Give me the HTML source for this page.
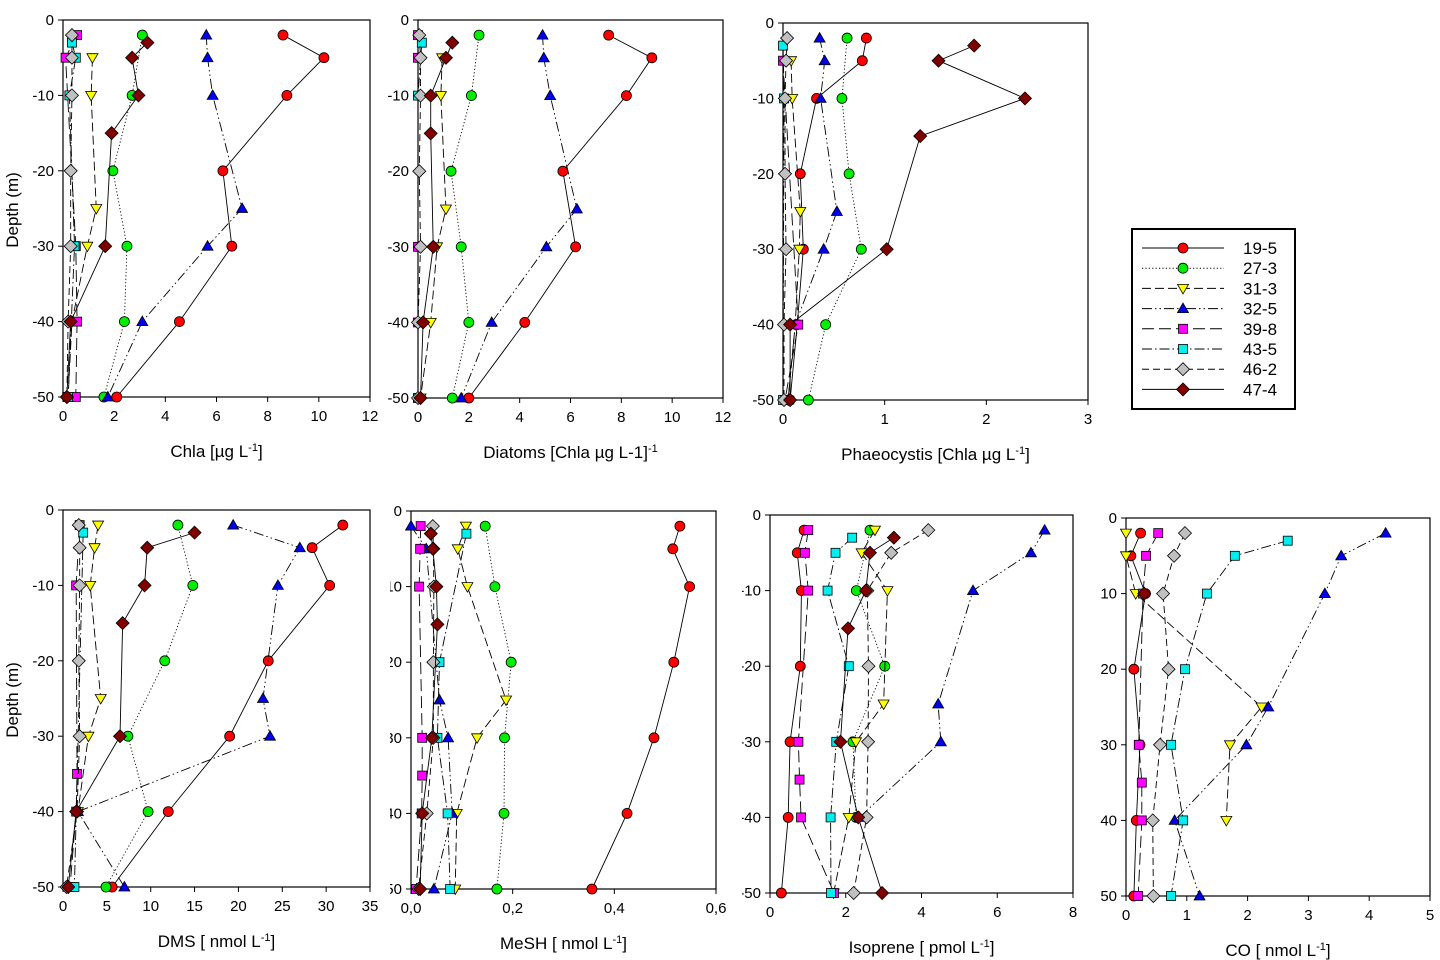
<!DOCTYPE html>
<html><head><meta charset="utf-8"><style>
html,body{margin:0;padding:0;background:#fff;}
svg{display:block;font-family:"Liberation Sans",Arial,sans-serif;}
</style></head><body>
<svg id="fig" width="1440" height="960" viewBox="0 0 1440 960"></svg>
<script>
const stations = ['19-5','27-3','31-3','32-5','39-8','43-5','46-2','47-4'];

const chlaDepths = {'19-5':[-2,-5,-10,-20,-30,-40,-50],'27-3':[-2,-10,-20,-30,-40,-50],'31-3':[-5,-10,-25,-30,-40,-50],'32-5':[-2,-5,-10,-25,-30,-40,-50],'39-8':[-2,-5,-30,-40,-50],'43-5':[-3,-5,-10,-30,-50],'46-2':[-2,-5,-10,-20,-30,-40,-50],'47-4':[-3,-5,-10,-15,-30,-40,-50]};
const chlaValues = {'19-5':[8.6,10.2,8.75,6.25,6.6,4.55,2.1],'27-3':[3.1,2.7,1.95,2.5,2.4,1.6],'31-3':[1.15,1.1,1.3,0.95,0.35,0.2],'32-5':[5.6,5.65,5.85,7.0,5.65,3.1,1.75],'39-8':[0.55,0.1,0.5,0.55,0.5],'43-5':[0.35,0.5,0.25,0.45,0.2],'46-2':[0.35,0.35,0.35,0.3,0.3,0.2,0.15],'47-4':[3.3,2.7,2.95,1.9,1.65,0.3,0.15]};

const diatDepths = {'19-5':[-2,-5,-10,-20,-30,-40,-50],'27-3':[-2,-10,-20,-30,-40,-50],'31-3':[-5,-10,-25,-30,-40,-50],'32-5':[-2,-5,-10,-25,-30,-40,-50],'39-8':[-2,-5,-30,-40,-50],'43-5':[-3,-10,-50],'46-2':[-2,-5,-10,-20,-30,-40,-50],'47-4':[-3,-5,-10,-15,-30,-40,-50]};
const diatValues = {'19-5':[7.5,9.2,8.2,5.7,6.2,4.2,2.0],'27-3':[2.4,2.1,1.3,1.7,2.0,1.35],'31-3':[0.95,0.9,1.1,0.75,0.5,0.1],'32-5':[4.9,4.95,5.2,6.25,5.05,2.9,1.7],'39-8':[0,0,0,0,0],'43-5':[0.15,0,0],'46-2':[0.05,0.1,0.1,0.05,0.1,0,0],'47-4':[1.35,1.1,0.5,0.5,0.6,0.2,0.1]};

const phaeoDepths = {'19-5':[-2,-5,-10,-20,-30,-40,-50],'27-3':[-2,-10,-20,-30,-40,-50],'31-3':[-5,-10,-25,-30,-40,-50],'32-5':[-2,-5,-10,-25,-30,-40,-50],'39-8':[-5,-40,-50],'43-5':[-3,-10,-50],'46-2':[-2,-5,-10,-20,-30,-40,-50],'47-4':[-3,-5,-10,-15,-30,-40,-50]};
const phaeoValues = {'19-5':[0.82,0.78,0.33,0.17,0.2,0.14,0.07],'27-3':[0.63,0.58,0.65,0.77,0.42,0.25],'31-3':[0.08,0.09,0.17,0.16,0.12,0.05],'32-5':[0.36,0.41,0.37,0.53,0.4,0.12,0.05],'39-8':[0,0.15,0.02],'43-5':[0,0.01,0],'46-2':[0.04,0.03,0.02,0.02,0.03,0.01,0.01],'47-4':[1.88,1.53,2.38,1.35,1.02,0.07,0.07]};

const dmsDepths = {'19-5':[-2,-5,-10,-20,-30,-40,-50],'27-3':[-2,-10,-20,-30,-40,-50],'31-3':[-2,-5,-10,-25,-30,-40],'32-5':[-2,-5,-10,-25,-30,-40,-50],'39-8':[-2,-10,-35,-40,-50],'43-5':[-3,-50],'46-2':[-2,-5,-10,-20,-30,-40,-50],'47-4':[-3,-5,-10,-15,-30,-40,-50]};
const dmsValues = {'19-5':[31.9,28.4,30.4,23.4,19.0,12.0,5.6],'27-3':[13.1,14.8,11.6,7.4,9.7,4.9],'31-3':[4.0,3.6,3.1,4.3,2.9,1.7],'32-5':[19.4,27.0,24.5,22.8,23.6,1.7,7.0],'39-8':[1.9,1.5,1.6,1.5,0.8],'43-5':[2.3,1.3],'46-2':[1.8,1.9,1.9,1.8,1.9,1.6,0.4],'47-4':[15.0,9.6,9.3,6.8,6.5,1.5,0.6]};

const meshDepths = {'19-5':[-2,-5,-10,-20,-30,-40,-50],'27-3':[-2,-10,-20,-30,-40,-50],'31-3':[-2,-5,-10,-25,-30,-40,-50],'32-5':[-2,-5,-25,-30,-40,-50],'39-8':[-2,-5,-10,-30,-35,-40,-50],'43-5':[-3,-20,-30,-40,-50],'46-2':[-2,-5,-10,-20,-30,-40,-50],'47-4':[-3,-5,-10,-15,-30,-40,-50]};
const meshValues = {'19-5':[0.529,0.515,0.548,0.517,0.478,0.425,0.356],'27-3':[0.146,0.165,0.197,0.184,0.183,0.169],'31-3':[0.108,0.092,0.111,0.187,0.130,0.090,0.087],'32-5':[0.0,0.03,0.056,0.073,0.081,0.045],'39-8':[0.019,0.018,0.016,0.022,0.022,0.021,0.01],'43-5':[0.109,0.056,0.052,0.072,0.077],'46-2':[0.043,0.044,0.045,0.044,0.044,0.031,0.015],'47-4':[0.039,0.043,0.05,0.052,0.041,0.022,0.018]};

const isoDepths = {'19-5':[-2,-5,-10,-20,-30,-40,-50],'27-3':[-2,-10,-20,-30,-40],'31-3':[-2,-5,-10,-25,-30,-40,-50],'32-5':[-2,-5,-10,-25,-30,-40],'39-8':[-2,-5,-10,-30,-35,-40,-50],'43-5':[-3,-5,-10,-20,-30,-40,-50],'46-2':[-2,-5,-10,-20,-30,-40,-50],'47-4':[-3,-5,-10,-15,-30,-40,-50]};
const isoValues = {'19-5':[0.9,0.72,0.83,0.8,0.53,0.48,0.3],'27-3':[2.64,2.28,3.03,2.19,2.27],'31-3':[2.77,2.42,3.1,3.0,2.27,2.08,1.68],'32-5':[7.25,6.89,5.36,4.44,4.51,2.36],'39-8':[1.01,0.92,1.01,0.75,0.78,0.82,1.69],'43-5':[2.17,1.73,1.52,2.08,1.75,1.6,1.61],'46-2':[4.18,3.2,2.57,2.6,2.59,2.55,2.21],'47-4':[3.27,2.64,2.53,2.06,1.86,2.33,2.96]};

const coDepths = {'19-5':[2,5,10,20,30,40,50],'27-3':[],'31-3':[2,5,10,25,30,40],'32-5':[2,5,10,25,30,40,50],'39-8':[2,5,10,30,35,40,50],'43-5':[3,5,10,20,30,40,50],'46-2':[2,5,10,20,30,40,50],'47-4':[10]};
const coValues = {'19-5':[0.24,0.08,0.32,0.13,0.23,0.17,0.13],'27-3':[],'31-3':[0,0,0.16,2.23,1.71,1.65],'32-5':[4.27,3.54,3.27,2.34,1.98,0.8,1.21],'39-8':[0.53,0.33,0.28,0.21,0.26,0.26,0.2],'43-5':[2.66,1.79,1.33,0.97,0.74,0.94,0.74],'46-2':[0.97,0.79,0.61,0.7,0.56,0.44,0.45],'47-4':[0.3]};

const xTicksChla = [0,2,4,6,8,10,12];
const xTicksPhaeo = [0,1,2,3];
const xTicksDms = [0,5,10,15,20,25,30,35];
const xTicksMesh = [0,0.2,0.4,0.6];
const xTicksIso = [0,2,4,6,8];
const xTicksCo = [0,1,2,3,4,5];
const yTicksNeg = [0,-10,-20,-30,-40,-50];
const yTicksPos = [0,10,20,30,40,50];

const STY = {
 '19-5':{c:'#ff0000',m:'circle',d:''},
 '27-3':{c:'#00ee00',m:'circle',d:'1.2,2.2'},
 '31-3':{c:'#ffff00',m:'tdown',d:'9,4'},
 '32-5':{c:'#0000ee',m:'tup',d:'10,3,1.5,3,1.5,3'},
 '39-8':{c:'#ff00ff',m:'square',d:'12,5'},
 '43-5':{c:'#00eeee',m:'square',d:'10,3,1.5,3'},
 '46-2':{c:'#c0c0c0',m:'diamond',d:'7,4'},
 '47-4':{c:'#800000',m:'diamond',d:''}
};
const NS='http://www.w3.org/2000/svg';
const svg=document.getElementById('fig');
function el(tag,attrs,parent){const e=document.createElementNS(NS,tag);for(const k in attrs)e.setAttribute(k,attrs[k]);(parent||svg).appendChild(e);return e;}
function marker(g,type,x,y,color){
 let e;
 if(type==='circle'){e=el('circle',{cx:x,cy:y,r:5},g);}
 else if(type==='square'){e=el('rect',{x:x-4.5,y:y-4.5,width:9,height:9},g);}
 else if(type==='tup'){e=el('polygon',{points:`${x},${y-5.5} ${x+5.5},${y+4} ${x-5.5},${y+4}`},g);}
 else if(type==='tdown'){e=el('polygon',{points:`${x},${y+5.5} ${x+5.5},${y-4} ${x-5.5},${y-4}`},g);}
 else {e=el('polygon',{points:`${x},${y-6.5} ${x+6.5},${y} ${x},${y+6.5} ${x-6.5},${y}`},g);}
 e.setAttribute('fill',color);e.setAttribute('stroke','#000');e.setAttribute('stroke-width','0.8');
 return e;
}
function fmt(v,comma){return comma?v.toFixed(1).replace('.',','):String(v);}
function panel(p){
 const g=el('g',{});
 
 
 const xs=v=>p.x0+(v-p.xmin)/(p.xmax-p.xmin)*(p.x1-p.x0);
 const ys=d=>p.y0+Math.abs(d)/50*(p.y1-p.y0);
 el('rect',{x:p.x0,y:p.y0,width:p.x1-p.x0,height:p.y1-p.y0,fill:'none',stroke:'#000','stroke-width':1.2},g);
 const xa=el('g',{},g);
 
 
 p.xt.forEach(t=>{const x=xs(t);
  el('line',{x1:x,x2:x,y1:p.y1,y2:p.y1+5,stroke:'#000'},xa);
  const tx=el('text',{x:x,y:p.y1+24,'text-anchor':'middle','font-size':15},xa);tx.textContent=fmt(t,p.comma);});
 const ya=el('g',{},g);
 
 
 if(p.clip){const cp=el('clipPath',{id:'cp'+p.name},svg);el('rect',{x:p.clip,y:p.y0-20,width:200,height:420},cp);ya.setAttribute('clip-path','url(#cp'+p.name+')');}
 p.yt.forEach(t=>{const y=ys(t);
  el('line',{x1:p.x0-5,x2:p.x0,y1:y,y2:y,stroke:'#000'},ya);
  const tx=el('text',{x:p.x0-9,y:y+5,'text-anchor':'end','font-size':15},ya);tx.textContent=String(t);});
 const lab=el('text',{x:(p.x0+p.x1)/2,y:p.y1+60,'text-anchor':'middle','font-size':17},g);
 
 
 lab.innerHTML=p.label;
 stations.forEach(s=>{
  const D=p.dep[s],V=p.val[s];if(!D||!D.length)return;
  const sg=el('g',{},g);
  
  
  const pts=D.map((d,i)=>xs(V[i])+','+ys(d)).join(' ');
  const pl=el('polyline',{points:pts,fill:'none',stroke:'#000','stroke-width':0.9},sg);
  if(STY[s].d)pl.setAttribute('stroke-dasharray',STY[s].d);
  D.forEach((d,i)=>{const m=marker(sg,STY[s].m,xs(V[i]),ys(d),STY[s].c);
   
   });
 });
}
panel({name:'chla',x0:63,x1:370,y0:20,y1:397,xmin:0,xmax:12,xt:xTicksChla,yt:yTicksNeg,dep:chlaDepths,val:chlaValues,label:'Chla [µg L<tspan baseline-shift="super" font-size="11">-1</tspan>]'});
panel({name:'diatoms',x0:418,x1:723,y0:20,y1:398,xmin:0,xmax:12,xt:xTicksChla,yt:yTicksNeg,clip:383,dep:diatDepths,val:diatValues,label:'Diatoms [Chla µg L-1]<tspan baseline-shift="super" font-size="11">-1</tspan>'});
panel({name:'phaeocystis',x0:783,x1:1088,y0:23,y1:400,xmin:0,xmax:3,xt:xTicksPhaeo,yt:yTicksNeg,dep:phaeoDepths,val:phaeoValues,label:'Phaeocystis [Chla µg L<tspan baseline-shift="super" font-size="11">-1</tspan>]'});
panel({name:'dms',x0:63,x1:370,y0:510,y1:887,xmin:0,xmax:35,xt:xTicksDms,yt:yTicksNeg,dep:dmsDepths,val:dmsValues,label:'DMS [ nmol L<tspan baseline-shift="super" font-size="11">-1</tspan>]'});
panel({name:'mesh',x0:411,x1:716,y0:511,y1:889,xmin:0,xmax:0.6,xt:xTicksMesh,yt:yTicksNeg,comma:true,clip:390,dep:meshDepths,val:meshValues,label:'MeSH [ nmol L<tspan baseline-shift="super" font-size="11">-1</tspan>]'});
panel({name:'isoprene',x0:770,x1:1073,y0:515,y1:893,xmin:0,xmax:8,xt:xTicksIso,yt:yTicksNeg,clip:742,dep:isoDepths,val:isoValues,label:'Isoprene [ pmol L<tspan baseline-shift="super" font-size="11">-1</tspan>]'});
panel({name:'co',x0:1126,x1:1430,y0:518,y1:896,xmin:0,xmax:5,xt:xTicksCo,yt:yTicksPos,dep:coDepths,val:coValues,label:'CO [ nmol L<tspan baseline-shift="super" font-size="11">-1</tspan>]'});

[[210,'depth-title-top'],[700,'depth-title-bottom']].forEach(a=>{
 const t=el('text',{x:0,y:0,'text-anchor':'middle','font-size':17,transform:`translate(18,${a[0]}) rotate(-90)`});
 
 
 t.textContent='Depth (m)';
});

const lg=el('g',{});


el('rect',{x:1132,y:229,width:163,height:180,fill:'#fff',stroke:'#000','stroke-width':2},lg);
stations.forEach((s,i)=>{
 const y=248+i*20.2;
 const eg=el('g',{},lg);
 
 
 const ln=el('line',{x1:1142,x2:1224,y1:y,y2:y,stroke:'#000','stroke-width':1},eg);
 if(STY[s].d)ln.setAttribute('stroke-dasharray',STY[s].d);
 marker(eg,STY[s].m,1183,y,STY[s].c);
 const t=el('text',{x:1243,y:y+6,'font-size':17},eg);t.textContent=s;
});
</script>
</body></html>
